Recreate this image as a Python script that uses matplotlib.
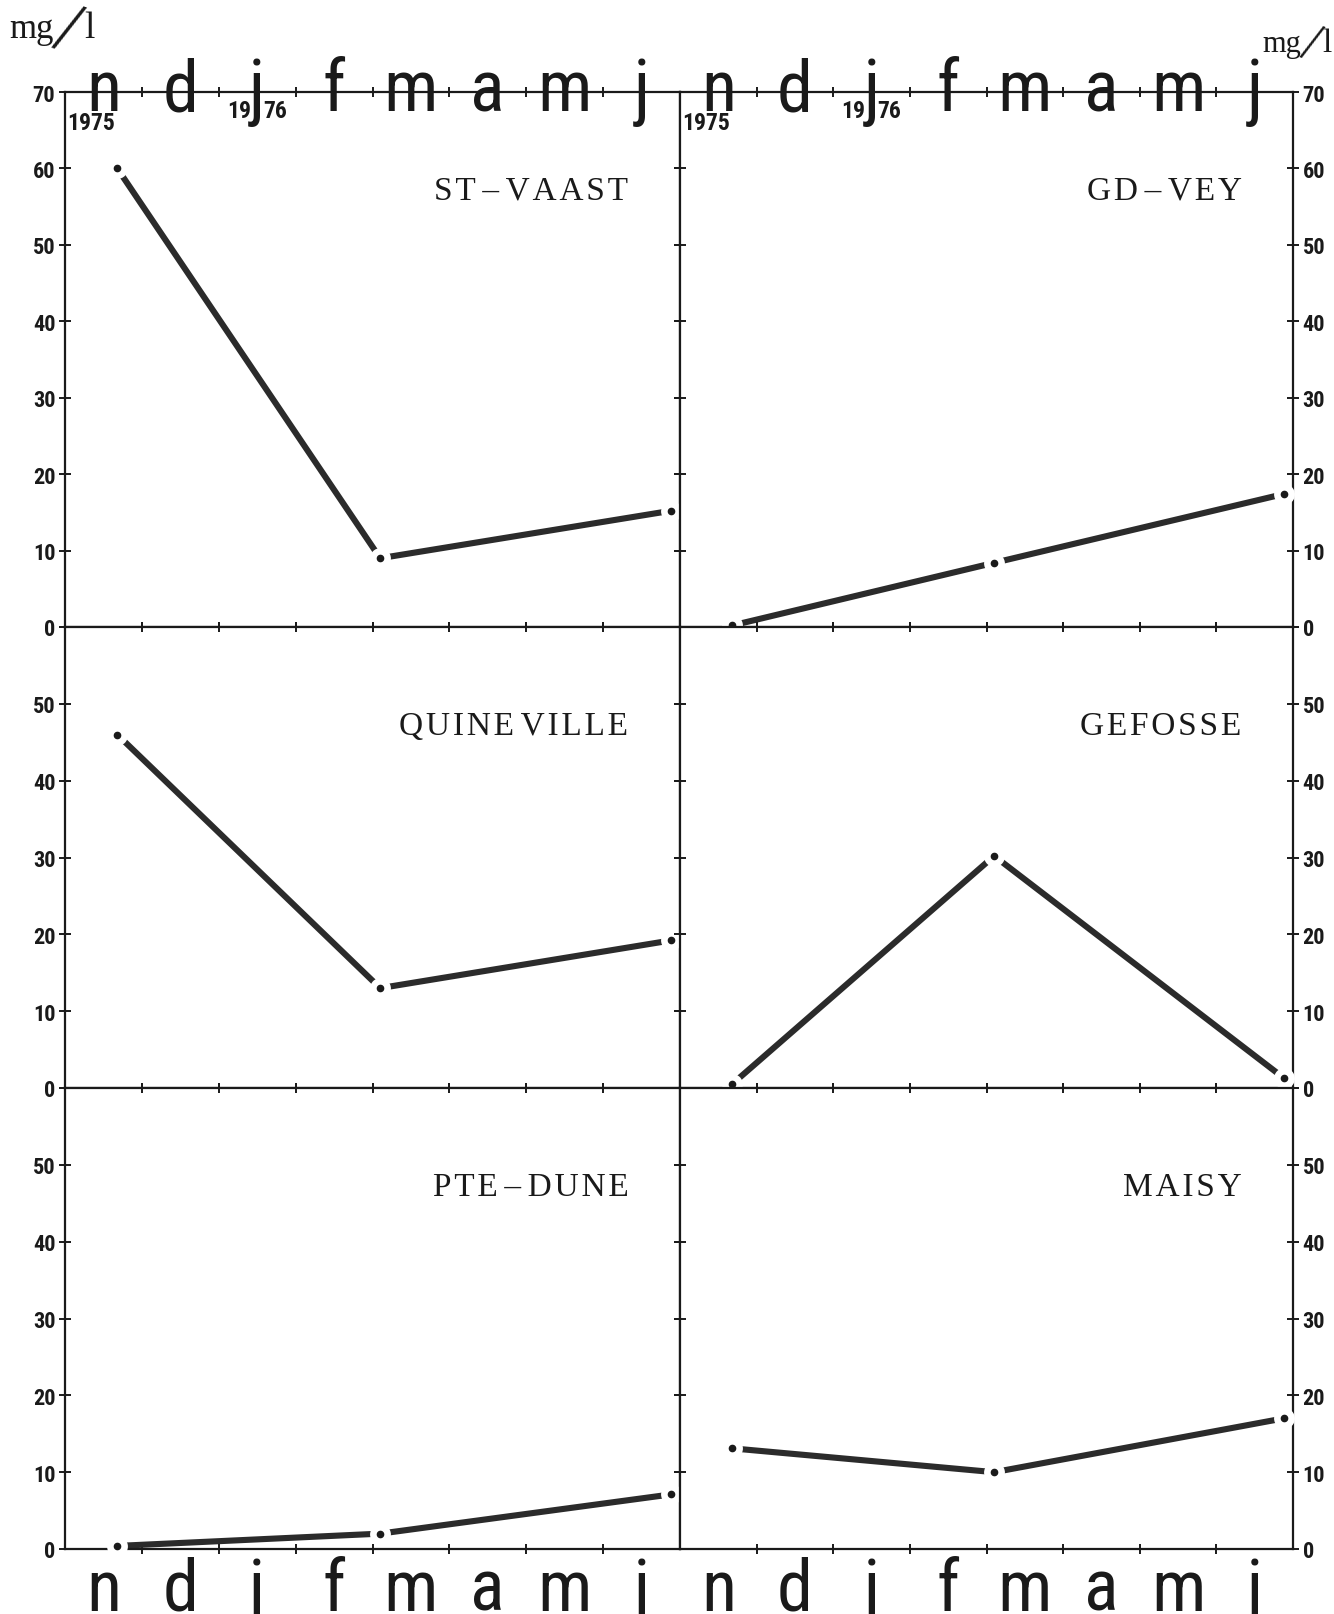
import numpy as np
import matplotlib.pyplot as plt
from matplotlib.transforms import blended_transform_factory

# months of the sampling year, nov 1975 -> jun 1976
months = ['n', 'd', 'j', 'f', 'm', 'a', 'm', 'j']
# sampling dates, in months since 1 nov 1975
sample_x = [0.68, 4.1, 7.88]

stations = ['ST-VAAST', 'GD-VEY', 'QUINE VILLE', 'GEFOSSE', 'PTE-DUNE', 'MAISY']
st_vaast = [60.0, 9.0, 15.2]
gd_vey = [0.2, 8.4, 17.4]
quineville = [46.0, 13.0, 19.2]
gefosse = [0.5, 30.2, 1.3]
pte_dune = [0.4, 2.0, 7.1]
maisy = [13.1, 10.0, 17.0]
series = [st_vaast, gd_vey, quineville, gefosse, pte_dune, maisy]

narrow = ['Roboto Condensed', 'Open Sans Condensed', 'Roboto', 'DejaVu Sans']
serif = ['Liberation Serif', 'DejaVu Serif']
ink = '#1a1a1a'
W, H = 1334, 1615


def spaced(name):
    # typewriter-like letter spacing of the station names
    out = []
    for word in name.split(' '):
        word = word.replace('-', '\u2013')
        out.append('\u200a'.join(word).replace('\u200a\u2013\u200a', '\u2009\u2013\u2009'))
    return '\u2009'.join(out)


def unit_label(x_mg, base, mg_size, x_sl, y_sl, sl_size, x_l):
    # "mg/l" with the long, leaning slash of the original
    fig.text(x_mg / W, 1 - base / H, 'mg', family=serif, fontsize=mg_size, color=ink,
             ha='left', va='baseline')
    fig.text(x_sl / W, 1 - y_sl / H, '/', family=serif, fontsize=sl_size, color=ink,
             ha='center', va='center', rotation=-19, rotation_mode='anchor')
    fig.text(x_l / W, 1 - base / H, 'l', family=serif, fontsize=mg_size + 2, color=ink,
             ha='left', va='baseline')


fig = plt.figure(figsize=(13.34, 16.15), dpi=100)

xl, xm, xr = 65 / W, 680 / W, 1293 / W
rows_px = [(93, 628, 70), (628, 1089, 60), (1089, 1550, 60)]

axes = []
for r, (top, bot, ymax) in enumerate(rows_px):
    y0 = 1 - bot / H
    h = (bot - top) / H
    for c in range(2):
        x0 = xl if c == 0 else xm
        w = (xm - xl) if c == 0 else (xr - xm)
        ax = fig.add_axes([x0, y0, w, h])
        ax.set_xlim(0, 8)
        ax.set_ylim(0, ymax)
        for s in ax.spines.values():
            s.set_linewidth(1.6)
            s.set_color(ink)
        ax.set_xticks(np.arange(1, 8))
        ax.set_xticklabels([])
        ax.tick_params(axis='x', direction='inout', length=7, width=1.4,
                       top=True, bottom=True, colors=ink)
        yt = np.arange(0, ymax + 1, 10)
        ax.set_yticks(yt)
        labels = [str(v) if (v < 60 or ymax == 70) else '' for v in yt]
        ax.set_yticklabels(labels)
        ax.tick_params(axis='y', direction='inout', length=8, width=1.4,
                       left=True, right=True, colors=ink, labelsize=16, pad=3)
        if c == 0:
            ax.tick_params(axis='y', labelleft=True, labelright=False)
        else:
            ax.tick_params(axis='y', labelleft=False, labelright=True)
        for lab in ax.get_yticklabels():
            lab.set_family(narrow)
            lab.set_fontweight('bold')
        axes.append(ax)

for i, ax in enumerate(axes):
    vals = series[i]
    ax.plot(sample_x, vals, color='#2b2b2b', lw=4.4, solid_capstyle='round',
            zorder=2, clip_on=False)
    ax.plot(sample_x, vals, 'o', ms=15, mfc='white', mec='none', zorder=3, clip_on=False)
    ax.plot(sample_x, vals, 'o', ms=4.5, color=ink, zorder=4, clip_on=False)
    ymax = ax.get_ylim()[1]
    lab_y = 57.2 if ymax == 70 else 47.2
    ax.text(7.33, lab_y, spaced(stations[i]), family=serif, fontsize=24, ha='right',
            va='center', color=ink)

# month letters on the top and bottom edges
for ax in axes[:2]:
    tr = blended_transform_factory(ax.transData, fig.transFigure)
    for k, m in enumerate(months):
        ax.text(k + 0.5, 1 - 111 / H, m, transform=tr, ha='center', va='baseline',
                family=narrow, fontsize=52, color=ink, clip_on=False)
    ax.text(0.03, 1 - 130 / H, '1975', transform=tr, ha='left', va='baseline',
            family=narrow, fontweight='bold', fontsize=17, color=ink)
    ax.text(2.42, 1 - 118 / H, '19', transform=tr, ha='right', va='baseline',
            family=narrow, fontweight='bold', fontsize=17, color=ink)
    ax.text(2.58, 1 - 118 / H, '76', transform=tr, ha='left', va='baseline',
            family=narrow, fontweight='bold', fontsize=17, color=ink)
for ax in axes[4:]:
    tr = blended_transform_factory(ax.transData, fig.transFigure)
    for k, m in enumerate(months):
        ax.text(k + 0.5, 1 - 1611 / H, m, transform=tr, ha='center', va='baseline',
                family=narrow, fontsize=52, color=ink, clip_on=False)

unit_label(9, 38, 25, 67, 33, 54, 84)
unit_label(1262, 52, 22, 1311, 46, 39, 1322)

fig.savefig('out.png', dpi=100)
